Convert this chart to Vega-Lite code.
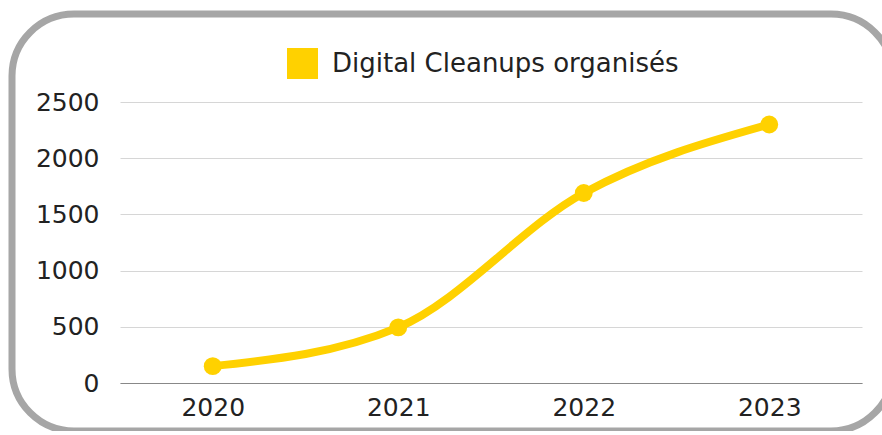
{
  "$schema": "https://vega.github.io/schema/vega-lite/v6.json",
  "width": 881,
  "height": 417,
  "autosize": {"type": "none"},
  "padding": {"left": 12, "top": 14, "right": 0, "bottom": 0},
  "background": "white",
  "config": {
    "font": "DejaVu Sans",
    "view": {"stroke": "#a6a6a6", "strokeWidth": 7, "cornerRadius": 62, "fill": "white"}
  },
  "data": {
    "values": [
      {"year": "2020", "value": 150, "series": "Digital Cleanups organisés"},
      {"year": "2021", "value": 495, "series": "Digital Cleanups organisés"},
      {"year": "2022", "value": 1690, "series": "Digital Cleanups organisés"},
      {"year": "2023", "value": 2300, "series": "Digital Cleanups organisés"}
    ]
  },
  "mark": {
    "type": "line",
    "interpolate": "monotone",
    "strokeWidth": 8,
    "strokeCap": "round",
    "point": {"filled": true, "size": 320, "opacity": 1}
  },
  "encoding": {
    "x": {
      "field": "year",
      "type": "ordinal",
      "scale": {"type": "point", "range": [108, 850], "padding": 0.5},
      "axis": {
        "title": null,
        "orient": "bottom",
        "offset": -48,
        "labelAngle": 0,
        "labelFontSize": 25,
        "labelColor": "#222222",
        "labelPadding": 12,
        "ticks": false,
        "tickSize": 0,
        "domainColor": "#888888",
        "domainWidth": 1,
        "grid": false
      }
    },
    "y": {
      "field": "value",
      "type": "quantitative",
      "scale": {"domain": [0, 2500], "range": [369, 88], "nice": false},
      "axis": {
        "title": null,
        "orient": "left",
        "offset": -108,
        "values": [0, 500, 1000, 1500, 2000, 2500],
        "format": "d",
        "labelFontSize": 25,
        "labelColor": "#222222",
        "labelPadding": 21,
        "ticks": false,
        "tickSize": 0,
        "domain": false,
        "grid": true,
        "gridColor": "#d6d6d6",
        "gridWidth": 1
      }
    },
    "color": {
      "field": "series",
      "type": "nominal",
      "scale": {"range": ["#FFD100"]},
      "legend": {
        "title": null,
        "orient": "none",
        "legendX": 275,
        "legendY": 34,
        "padding": 0,
        "symbolType": "square",
        "symbolSize": 961,
        "symbolFillColor": "#FFD100",
        "symbolStrokeWidth": 0,
        "symbolOpacity": 1,
        "labelFontSize": 26,
        "labelColor": "#222222",
        "labelOffset": 14,
        "labelLimit": 500
      }
    }
  }
}
